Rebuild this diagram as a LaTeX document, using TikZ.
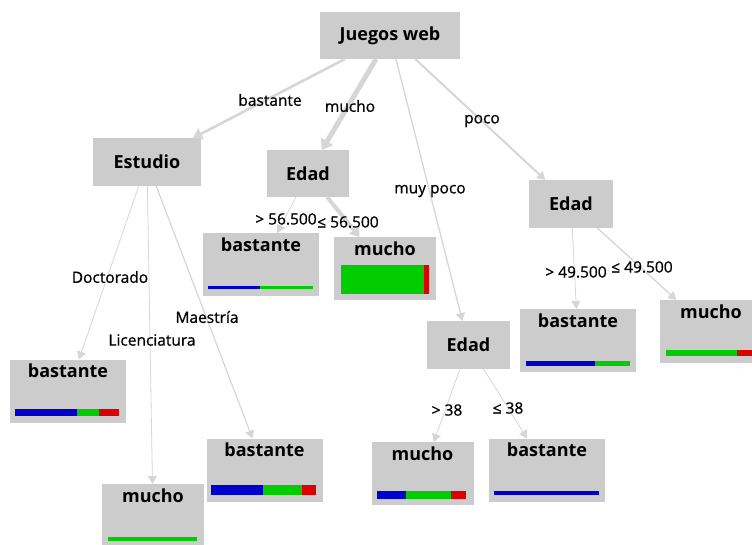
\documentclass[tikz,border=0pt]{standalone}
\usepackage{fontspec}
\setmainfont{Open Sans}
\usetikzlibrary{arrows.meta}
\definecolor{boxgray}{RGB}{204,204,204}
\definecolor{edgegray}{RGB}{214,214,214}
\definecolor{barblue}{RGB}{0,0,204}
\definecolor{bargreen}{RGB}{0,204,0}
\definecolor{barred}{RGB}{221,0,0}

\begin{document}
\begin{tikzpicture}[x=1pt,y=-1pt,
    split/.style={rectangle, fill=boxgray, outer sep=0pt, inner sep=0pt, font=\fontsize{18}{20}\selectfont\bfseries},
    leaf/.style={rectangle, fill=boxgray, outer sep=0pt, inner sep=0pt, text height=18pt, text depth=45pt, font=\fontsize{18}{20}\selectfont\bfseries},
    edge/.style={draw=edgegray, line width=1pt, -{Triangle[width=9pt,length=8pt]}},
    lbl/.style={inner sep=0pt, font=\fontsize{15.5}{17}\selectfont\addfontfeatures{FakeBold=0.8}}]
      \useasboundingbox (0,0) rectangle (752,544);
      \clip (0,0) rectangle (752,544);

      % splits
      \node[split, minimum width=140pt, minimum height=47pt] (juegos) at (390,35.5) {Juegos web};
      \node[split, minimum width=108pt, minimum height=48pt] (estudio) at (147,162) {Estudio};
      \node[split, minimum width=82pt, minimum height=47pt] (edadA) at (308,173.5) {Edad};
      \node[split, minimum width=83pt, minimum height=48pt] (edadB) at (468.5,345) {Edad};
      \node[split, minimum width=84pt, minimum height=48pt] (edadC) at (571,204) {Edad};

      % leaves
      \node[leaf, minimum width=116pt] (hojaA) at (261,264.5) {bastante};
      \node[leaf, minimum width=102pt] (hojaB) at (385,268.5) {mucho};
      \node[leaf, minimum width=116pt] (hojaC) at (578,340.5) {bastante};
      \node[leaf, minimum width=102pt] (hojaD) at (711,331.5) {mucho};
      \node[leaf, minimum width=102pt] (hojaE) at (422.5,473.5) {mucho};
      \node[leaf, minimum width=116pt] (hojaF) at (547,470) {bastante};
      \node[leaf, minimum width=116pt] (hojaG) at (68,391) {bastante};
      \node[leaf, minimum width=102pt] (hojaH) at (153,515.5) {mucho};
      \node[leaf, minimum width=116pt] (hojaI) at (264.5,470) {bastante};

      % bars
      \fill[barblue] (208,286) rectangle (260,289);
      \fill[bargreen] (260,286) rectangle (313,289);
      \fill[bargreen] (341,265) rectangle (424,294);
      \fill[barred] (424,265) rectangle (429,294);
      \fill[barblue] (526,361) rectangle (595,366);
      \fill[bargreen] (595,361) rectangle (630,366);
      \fill[bargreen] (666,350) rectangle (737,356);
      \fill[barred] (737,350) rectangle (756,356);
      \fill[barblue] (377,491) rectangle (406,499);
      \fill[bargreen] (406,491) rectangle (451,499);
      \fill[barred] (451,491) rectangle (466,499);
      \fill[barblue] (494,491) rectangle (599,495);
      \fill[barblue] (15,409) rectangle (77,416);
      \fill[bargreen] (77,409) rectangle (99,416);
      \fill[barred] (99,409) rectangle (119,416);
      \fill[bargreen] (108,537) rectangle (197,541);
      \fill[barblue] (211,485) rectangle (263,495);
      \fill[bargreen] (263,485) rectangle (302,495);
      \fill[barred] (302,485) rectangle (316,495);

      % connectors
      \draw[edge, line width=2.6pt, -{Triangle[width=12pt,length=9pt]}] (juegos) -- (estudio);
      \draw[edge, line width=5pt, -{Triangle[width=14pt,length=10pt]}] (juegos) -- (edadA);
      \draw[edge, line width=1.3pt] (juegos) -- (edadB);
      \draw[edge, line width=2pt] (juegos) -- (edadC);
      \draw[edge, line width=0.8pt] (estudio) -- (hojaG);
      \draw[edge, line width=0.8pt] (estudio) -- (hojaH);
      \draw[edge, line width=1.2pt] (estudio) -- (hojaI);
      \draw[edge, line width=0.8pt] (edadA) -- (hojaA);
      \draw[edge, line width=4pt, -{Triangle[width=12pt,length=9pt]}] (edadA) -- (hojaB);
      \draw[edge, line width=0.8pt] (edadC) -- (hojaC);
      \draw[edge, line width=1.3pt] (edadC) -- (hojaD);
      \draw[edge, line width=0.8pt] (edadB) -- (hojaE);
      \draw[edge, line width=0.8pt] (edadB) -- (hojaF);

      % labels
      \node[lbl] (lbastante) at (270,100) {bastante};
      \node[lbl] (lmucho) at (350,106) {mucho};
      \node[lbl] (lmuypoco) at (430,191) {muy poco};
      \node[lbl] (lpoco) at (482,121) {poco};
      \node[lbl] (lmayA) at (286,219) {> 56.500};
      \node[lbl] (lmenA) at (348,222) {≤ 56.500};
      \node[lbl] (lmayC) at (576,272) {> 49.500};
      \node[lbl] (lmenC) at (642,267) {≤ 49.500};
      \node[lbl] (lmayB) at (447,410) {> 38};
      \node[lbl] (lmenB) at (508,408) {≤ 38};
      \node[lbl] (ldoct) at (110,277) {Doctorado};
      \node[lbl] (llic) at (152,340) {Licenciatura};
      \node[lbl] (lmaes) at (207,317) {Maestría};
    \end{tikzpicture}
\end{document}
